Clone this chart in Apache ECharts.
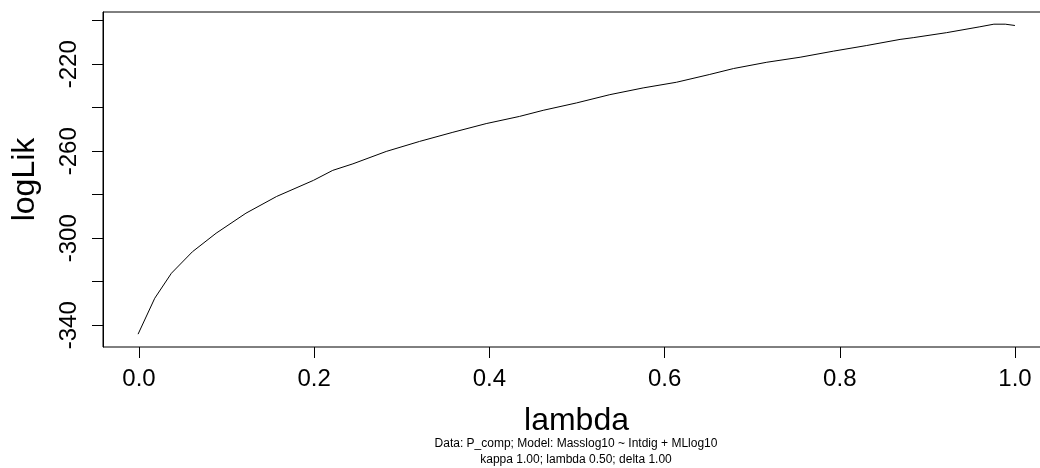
<!DOCTYPE html>
<html>
<head>
<meta charset="utf-8">
<script src="https://cdn.jsdelivr.net/npm/echarts@6/dist/echarts.min.js"></script>
<style>
  html, body { margin: 0; padding: 0; background: #fff; }
  #chart { width: 1040px; height: 468px; }
</style>
</head>
<body>
<div id="chart"></div>
<script>
// profile of logLik over lambda
var lambda = [0, 0.019, 0.038, 0.062, 0.089, 0.123, 0.158, 0.2, 0.222, 0.245,
    0.283, 0.321, 0.359, 0.397, 0.435, 0.462, 0.5, 0.538, 0.576, 0.614,
    0.652, 0.679, 0.717, 0.755, 0.793, 0.831, 0.869, 0.884, 0.922, 0.96,
    0.976, 0.989, 1.0];
var logLik = [-344.1, -327.6, -316.1, -306.2, -297.7, -288.5, -280.8, -273.4, -268.8, -265.8,
    -260.1, -255.5, -251.3, -247.3, -244.0, -241.2, -237.8, -234.0, -230.9, -228.3,
    -224.7, -222.0, -219.1, -216.8, -214.0, -211.4, -208.6, -207.8, -205.5, -202.8,
    -201.6, -201.6, -202.2];

var xTicks = [0, 0.2, 0.4, 0.6, 0.8, 1.0];
var yTicks = [-340, -320, -300, -280, -260, -240, -220, -200];
var yLabels = [-340, -300, -260, -220];

var subLines = ['Data: P_comp; Model: Masslog10 ~ Intdig + MLlog10',
    'kappa 1.00; lambda 0.50; delta 1.00'];

var myChart = echarts.init(document.getElementById('chart'));

var pts = [];
for (var i = 0; i < lambda.length; i++) {
    pts.push([lambda[i], logLik[i]]);
}

// x tick marks drawn as short lines in the strip under the plot
var tickLines = xTicks.map(function (v) { return { xAxis: v }; });

var font = 'Liberation Sans, Arial, sans-serif';

var option = {
    backgroundColor: '#fff',
    animation: false,
    grid: [{
        left: 103, right: -10, top: 12, bottom: 121,
        outerBoundsMode: 'none',
        containLabel: false,
        show: true, borderColor: '#000', borderWidth: 1
    }, {
        // thin strip under the plot (x = 0..1) holding the x ticks and labels
        left: 139, width: 876, top: 347, height: 11,
        outerBoundsMode: 'none',
        containLabel: false,
        show: false
    }],
    xAxis: [{
        type: 'value',
        gridIndex: 0,
        min: -0.04, max: 1.04,
        name: 'lambda',
        nameLocation: 'middle',
        nameGap: 58,
        nameTextStyle: { fontFamily: font, fontSize: 32, color: '#000' },
        splitLine: { show: false },
        axisLine: { show: false, onZero: false },
        axisTick: { show: false },
        axisLabel: { show: false }
    }, {
        type: 'value',
        gridIndex: 1,
        min: xTicks[0], max: xTicks[xTicks.length - 1], interval: 0.2,
        axisLine: { show: false, onZero: false },
        axisTick: { show: false },
        splitLine: { show: true, showMinLine: true, showMaxLine: true,
            lineStyle: { color: '#000', width: 1, type: 'solid' } },
        axisLabel: {
            margin: 9, showMinLabel: true, showMaxLabel: true,
            fontFamily: font, fontSize: 24, color: '#000',
            formatter: function (v) { return v.toFixed(1); }
        }
    }],
    yAxis: [{
        type: 'value',
        gridIndex: 0,
        min: -350, max: -196,
        name: 'logLik',
        nameLocation: 'middle',
        nameGap: 62,
        nameTextStyle: { fontFamily: font, fontSize: 32, color: '#000' },
        splitLine: { show: false },
        axisLine: { show: true, onZero: false, lineStyle: { color: '#000', width: 1 } },
        axisTick: { show: true, inside: false, length: 11, customValues: yTicks,
            lineStyle: { color: '#000', width: 1 } },
        axisLabel: {
            customValues: yLabels, rotate: 90, margin: 22,
            fontFamily: font, fontSize: 24, color: '#000'
        }
    }, {
        type: 'value',
        gridIndex: 1,
        min: 0, max: 1,
        show: false
    }],
    graphic: [
        { type: 'text', x: 576, y: 444, style: { text: subLines[0], fontFamily: font, fontSize: 12,
            fill: '#000', textAlign: 'center', textVerticalAlign: 'middle' } },
        { type: 'text', x: 576, y: 460, style: { text: subLines[1], fontFamily: font, fontSize: 12,
            fill: '#000', textAlign: 'center', textVerticalAlign: 'middle' } }
    ],
    series: [{
        type: 'line',
        xAxisIndex: 0,
        yAxisIndex: 0,
        data: pts,
        showSymbol: false,
        lineStyle: { color: '#000', width: 1 }
    }, {
        type: 'line',
        xAxisIndex: 1,
        yAxisIndex: 1,
        data: [],
        silent: true,
        markLine: {
            silent: true,
            animation: false,
            symbol: ['none', 'none'],
            label: { show: false },
            lineStyle: { color: '#000', width: 1, type: 'solid' },
            data: tickLines
        }
    }]
};

myChart.setOption(option);
</script>
</body>
</html>
